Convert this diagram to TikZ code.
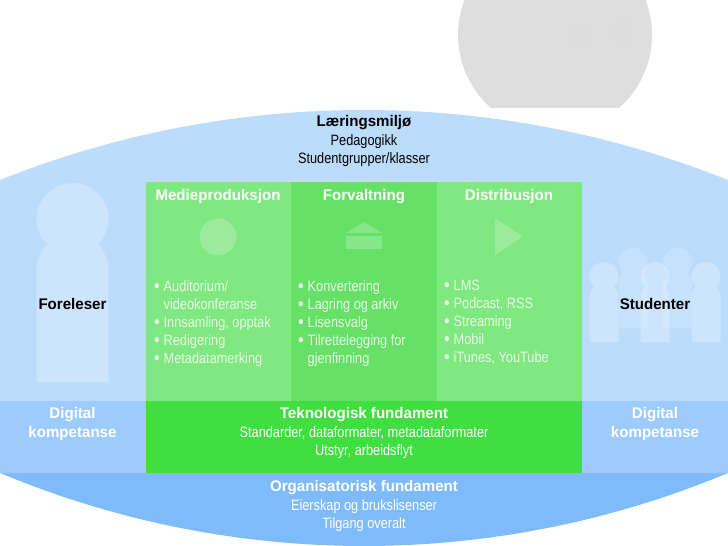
\documentclass[tikz,border=0pt]{standalone}
\usepackage{fontspec}
\setmainfont[FakeStretch=0.85]{Liberation Sans}
\newfontfamily\headfont[FakeStretch=0.98]{Liberation Sans Bold}
\usetikzlibrary{positioning}

\definecolor{lensLight}{HTML}{BBDCFB}
\definecolor{lensMid}{HTML}{9CCBFC}
\definecolor{lensDeep}{HTML}{7FBBFA}
\definecolor{colLight}{HTML}{80E880}
\definecolor{colDark}{HTML}{66E066}
\definecolor{colBase}{HTML}{41DE41}
\definecolor{iconGreen}{HTML}{9AEB9A}
\definecolor{iconPale}{HTML}{86E886}
\definecolor{listText}{HTML}{E8FBE8}

\newcommand{\person}[5]{% x centre, y of head top, y of feet, radius, opacity
    \fill[white, opacity=#5]
        (#1,#2-#4) circle[radius=#4]
        (#1+#4,#3) -- (#1+#4,#2-2.42*#4) arc[start angle=0, end angle=180, radius=#4] -- (#1-#4,#3) -- cycle;
}
\newcommand{\dotline}[1]{\makebox[9.5pt][l]{\raisebox{-1.2pt}{\fontsize{19}{18}\selectfont\textbullet}}#1}
\newcommand{\hangline}[1]{\hspace{9.5pt}#1}
\newcommand{\headline}[1]{{\fontsize{15.4}{18}\selectfont\headfont #1}}

\begin{document}
\begin{tikzpicture}[
    x=1pt, y=1pt,
    font=\fontsize{15}{18}\selectfont,
    column/.style={rectangle, fill=#1, inner sep=0pt, outer sep=0pt, minimum height=219pt},
    band/.style={rectangle, fill=#1, inner sep=0pt, outer sep=0pt, minimum height=72pt},
    heading/.style={font=\fontsize{15.4}{18}\selectfont\headfont, text=white, inner sep=0pt},
    bullets/.style={align=left, text=listText, inner sep=0pt, anchor=north west},
    stack/.style={align=center, inner sep=0pt, text=#1, font=\fontsize{15}{18.7}\selectfont},
    who/.style={font=\fontsize{15.4}{18.7}\selectfont\headfont, inner sep=0pt},
]
\useasboundingbox (0,0) rectangle (728,546);

% ---- Grey disc at the top ----
\begin{scope}
    \clip (440,438) rectangle (670,546);
    \fill[black!13] (555,511) circle[radius=97];
    \fill[black!13.5] (580,511) circle[radius=13];
    \fill[black!13.5] (621,514) circle[radius=14];
\end{scope}

% ---- Lens with its bands ----
\begin{scope}
    \clip (0,366) arc[start angle=111.78, end angle=68.22, radius=981]
        -- (728,73) arc[start angle=-67.32, end angle=-112.68, radius=944] -- cycle;
    \fill[lensLight] (0,145) rectangle (728,440);
    \fill[lensMid] (0,73) rectangle (728,145);
    \fill[lensDeep] (0,0) rectangle (728,73);
\end{scope}

% ---- Green columns ----
\node[column=colLight, minimum width=145pt, anchor=north west] (prod) at (146,364) {};
\node[column=colDark, minimum width=146pt, right=0pt of prod] (forv) {};
\node[column=colLight, minimum width=145pt, right=0pt of forv] (dist) {};
\node[band=colBase, minimum width=436pt, anchor=north west] (tekn) at (prod.south west) {};

% ---- Column icons ----
\node[circle, fill=iconGreen, minimum size=37pt, inner sep=0pt] (disc) at (218,309) {};
\fill[iconPale] (346,313) -- (364,324) -- (382,313) -- cycle;
\fill[iconPale] (346,297) rectangle (382,310);
\fill[iconGreen] (495,328) -- (523,309.5) -- (495,291) -- cycle;

% ---- People ----
\person{72.5}{363}{164}{36}{0.25}
\person{633}{298}{218}{14.5}{0.15}
\person{677.5}{298}{218}{14.5}{0.15}
\person{604}{284}{204}{14.5}{0.25}
\person{655}{284}{204}{14.5}{0.25}
\person{706}{284}{204}{14.5}{0.25}

% ---- Column headings ----
\node[heading] (prodhead) at (218,349.5) {Medieproduksjon};
\node[heading] (forvhead) at (364,349.5) {Forvaltning};
\node[heading] (disthead) at (509,349.5) {Distribusjon};

% ---- Lists ----
\node[bullets] (prodlist) at (154,266) {\dotline{Auditorium/}\\\hangline{videokonferanse}\\\dotline{Innsamling, opptak}\\\dotline{Redigering}\\\dotline{Metadatamerking}};
\node[bullets] (forvlist) at (298,266) {\dotline{Konvertering}\\\dotline{Lagring og arkiv}\\\dotline{Lisensvalg}\\\dotline{Tilrettelegging for}\\\hangline{gjenfinning}};
\node[bullets] (distlist) at (444,266) {\dotline{LMS}\\\dotline{Podcast, RSS}\\\dotline{Streaming}\\\dotline{Mobil}\\\dotline{iTunes, YouTube}};

% ---- Centre stacks ----
\node[stack=black] (miljo) at (364,405) {\headline{Læringsmiljø}\\Pedagogikk\\Studentgrupper/klasser};
\node[stack=white] (teknotext) at (364,113) {\headline{Teknologisk fundament}\\Standarder, dataformater, metadataformater\\Utstyr, arbeidsflyt};
\node[stack=white] (orgtext) at (364,40) {\headline{Organisatorisk fundament}\\Eierskap og brukslisenser\\Tilgang overalt};

% ---- Side labels ----
\node[who] (foreleser) at (72.5,242) {Foreleser};
\node[who] (studenter) at (655,242) {Studenter};
\node[who, text=white, align=center] (kompleft) at (72.5,122) {Digital\\kompetanse};
\node[who, text=white, align=center] (kompright) at (655,122) {Digital\\kompetanse};

\end{tikzpicture}
\end{document}
